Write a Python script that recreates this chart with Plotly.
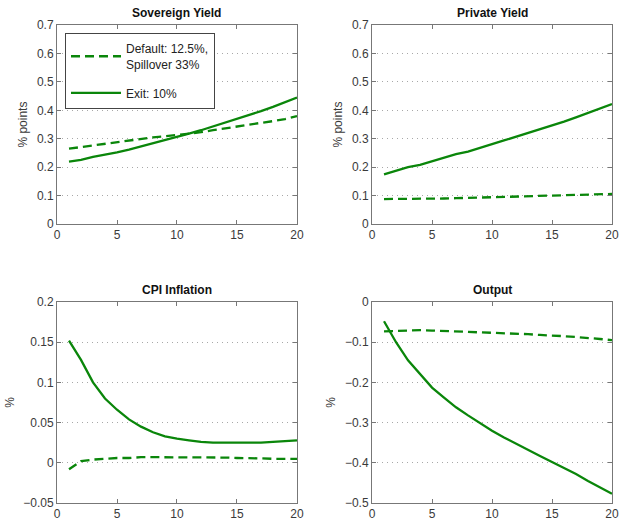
import plotly.graph_objects as go

quarters = list(range(1, 21))

sov_default = [0.265, 0.271, 0.277, 0.283, 0.289, 0.295, 0.300, 0.305, 0.309, 0.313,
               0.318, 0.323, 0.330, 0.337, 0.343, 0.350, 0.356, 0.362, 0.369, 0.380]
sov_exit = [0.220, 0.226, 0.236, 0.243, 0.252, 0.262, 0.273, 0.284, 0.294, 0.306,
            0.318, 0.330, 0.343, 0.356, 0.369, 0.382, 0.397, 0.412, 0.428, 0.445]

priv_default = [0.088, 0.088, 0.088, 0.088, 0.089, 0.090, 0.091, 0.092, 0.093, 0.094,
                0.095, 0.096, 0.097, 0.098, 0.099, 0.100, 0.101, 0.102, 0.104, 0.106]
priv_exit = [0.175, 0.188, 0.200, 0.208, 0.220, 0.233, 0.246, 0.255, 0.267, 0.281,
             0.294, 0.307, 0.320, 0.333, 0.345, 0.360, 0.375, 0.390, 0.405, 0.422]

cpi_default = [-0.008, 0.002, 0.004, 0.005, 0.006, 0.006, 0.007, 0.007, 0.007, 0.007,
               0.007, 0.007, 0.007, 0.0065, 0.006, 0.006, 0.0055, 0.005, 0.005, 0.005]
cpi_exit = [0.152, 0.128, 0.100, 0.080, 0.066, 0.054, 0.045, 0.038, 0.033, 0.030,
            0.028, 0.026, 0.025, 0.025, 0.025, 0.025, 0.025, 0.026, 0.027, 0.028]

out_default = [-0.073, -0.072, -0.071, -0.070, -0.071, -0.072, -0.073, -0.074, -0.075, -0.076,
               -0.077, -0.078, -0.080, -0.082, -0.083, -0.085, -0.087, -0.089, -0.092, -0.095]
out_exit = [-0.048, -0.100, -0.145, -0.180, -0.213, -0.238, -0.262, -0.282, -0.302, -0.320,
            -0.337, -0.353, -0.367, -0.383, -0.398, -0.412, -0.428, -0.445, -0.460, -0.477]

titles = ["Sovereign Yield", "Private Yield", "CPI Inflation", "Output"]
ylabels = ["% points", "% points", "%", "%"]
yranges = [[0, 0.7], [0, 0.7], [-0.05, 0.2], [-0.5, 0]]
ydticks = [0.1, 0.1, 0.05, 0.1]
series = [(sov_default, sov_exit), (priv_default, priv_exit),
          (cpi_default, cpi_exit), (out_default, out_exit)]

default_name = "Default: 12.5%,<br>Spillover 33%"
exit_name = "Exit: 10%"
green = "#0a860a"

xdomains = [[0, 0.4324], [0.5676, 1], [0, 0.4324], [0.5676, 1]]
ydomains = [[0.5835, 1], [0.5835, 1], [0, 0.4205], [0, 0.4205]]

FAM = "Liberation Sans, Arial, sans-serif"
fig = go.Figure()
font = dict(family=FAM, size=12, color="#3a3a3a")

for i in range(4):
    ax = "" if i == 0 else str(i + 1)
    d, e = series[i]
    fig.add_trace(go.Scatter(x=quarters, y=d, mode="lines", name=default_name,
                             legendgroup="d",
                             line=dict(color=green, width=2.3, dash="9px,5px"),
                             xaxis="x" + ax, yaxis="y" + ax, showlegend=(i == 0)))
    fig.add_trace(go.Scatter(x=quarters, y=e, mode="lines", name=exit_name,
                             legendgroup="e",
                             line=dict(color=green, width=2.3),
                             xaxis="x" + ax, yaxis="y" + ax, showlegend=(i == 0)))
    common = dict(showline=True, linecolor="#777777", linewidth=1, mirror="ticks",
                  ticks="inside", ticklen=4, tickcolor="#777777",
                  tickfont=font, zeroline=False, automargin=False)
    fig.layout["xaxis" + ax] = dict(domain=xdomains[i], range=[0, 20], dtick=5, tick0=0,
                                    showgrid=False, anchor="y" + ax, **common)
    fig.layout["yaxis" + ax] = dict(domain=ydomains[i], range=yranges[i], dtick=ydticks[i],
                                    tick0=0, showgrid=True, gridcolor="#a8a8a8",
                                    griddash="1px,4px", gridwidth=1, anchor="x" + ax,
                                    title=dict(text=ylabels[i], font=font, standoff=6),
                                    **common)
    xc = (xdomains[i][0] + xdomains[i][1]) / 2
    fig.add_annotation(text="<b>" + titles[i] + "</b>", x=xc, y=ydomains[i][1],
                       xref="paper", yref="paper", xanchor="center", yanchor="bottom",
                       yshift=3, showarrow=False,
                       font=dict(family=FAM, size=12, color="#111111"))

fig.update_layout(
    width=619, height=520,
    margin=dict(l=57, r=7, t=25, b=17),
    paper_bgcolor="white", plot_bgcolor="white",
    font=font,
    legend=dict(x=0.0144, y=0.983, xanchor="left", yanchor="top",
                bgcolor="white", bordercolor="#444444", borderwidth=1,
                font=dict(family=FAM, size=12, color="#222222"),
                tracegroupgap=10, itemwidth=50),
)

fig.write_html("out.html", config={"displayModeBar": False},
               post_script="document.body.style.margin='0';")
